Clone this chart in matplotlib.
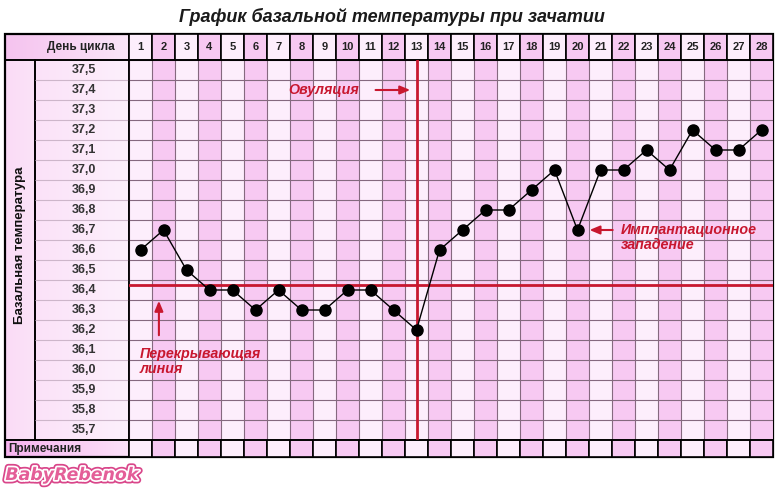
import matplotlib
matplotlib.use("Agg")
import matplotlib.pyplot as plt
import matplotlib.patheffects as pe
from matplotlib.patches import Rectangle
from matplotlib.transforms import blended_transform_factory
import numpy as np

plt.rcParams["font.family"] = ["Liberation Sans", "DejaVu Sans"]

# ---- chart data ----
days = list(range(1, 29))
temps = [36.6, 36.7, 36.5, 36.4, 36.4, 36.3, 36.4, 36.3, 36.3, 36.4,
         36.4, 36.3, 36.2, 36.6, 36.7, 36.8, 36.8, 36.9, 37.0, 36.7,
         37.0, 37.0, 37.1, 37.0, 37.2, 37.1, 37.1, 37.2]
temp_ticks = [37.5, 37.4, 37.3, 37.2, 37.1, 37.0, 36.9, 36.8, 36.7, 36.6,
              36.5, 36.4, 36.3, 36.2, 36.1, 36.0, 35.9, 35.8, 35.7]
temp_labels = ["37,5", "37,4", "37,3", "37,2", "37,1", "37,0", "36,9", "36,8",
               "36,7", "36,6", "36,5", "36,4", "36,3", "36,2", "36,1", "36,0",
               "35,9", "35,8", "35,7"]
coverline = 36.425
ovulation_day = 13
implantation_day = 20

title = "График базальной температуры при зачатии"

# ---- colours ----
DARK = "#f7c9f2"
LIGHT = "#fdeefc"
GRID = "#85697f"
RED = "#c8172f"

W, H = 782, 490
fig = plt.figure(figsize=(W / 100, H / 100), dpi=100)
fig.patch.set_facecolor("white")

# background layer in pixel units (y grows downward)
bg = fig.add_axes([0, 0, 1, 1])
bg.axis("off")

TL, TR = 5, 773      # table left / right
LX, GX = 35, 129     # left column divider, start of the day grid
HT, GT = 34, 60      # header top, grid top
GB, NB = 440, 457    # grid bottom, notes row bottom


def hgrad(c0, c1, n=64):
    a = np.array(matplotlib.colors.to_rgb(c0))
    b = np.array(matplotlib.colors.to_rgb(c1))
    t = np.linspace(0, 1, n)[None, :, None]
    return a + (b - a) * t


bg.imshow(hgrad("#f5c3ef", "#fbe6f8"), extent=(TL, GX, HT, GT), aspect="auto", zorder=0)
bg.imshow(hgrad("#f7b4ef", "#fbe0f8"), extent=(TL, GX, GB, NB), aspect="auto", zorder=0)
bg.imshow(hgrad("#fadbf6", "#fbe3f8"), extent=(TL, LX, GT, GB), aspect="auto", zorder=0)
bg.imshow(hgrad("#fbe2f8", "#fdf0fc"), extent=(LX, GX, GT, GB), aspect="auto", zorder=0)

bg.add_patch(Rectangle((TL, HT), GX - TL, GT - HT, fill=False, ec="black", lw=1.2, zorder=3))
bg.add_patch(Rectangle((TL, GB), GX - TL, NB - GB, fill=False, ec="black", lw=1.2, zorder=3))
bg.add_patch(Rectangle((TL, GT), LX - TL, GB - GT, fill=False, ec="black", lw=1.2, zorder=3))
bg.add_patch(Rectangle((LX, GT), GX - LX, GB - GT, fill=False, ec="black", lw=1.2, zorder=3))

bg.text(392, 17, title, ha="center", va="center", fontsize=13,
        fontweight="bold", style="italic", color="#1a1a1a")
bg.text((LX + GX) / 2 - 1, (HT + GT) / 2, "День цикла", ha="center", va="center",
        fontsize=8.5, fontweight="bold", color="#222222")
bg.text((TL + LX) / 2, (GT + GB) / 2 - 5, "Базальная температура", rotation=90,
        ha="center", va="center", fontsize=9.5, fontweight="bold", color="#111111")
bg.text(TL + 3, (GB + NB) / 2, "Примечания", ha="left", va="center",
        fontsize=8.5, fontweight="bold", color="#222222")

logo = bg.text(72, 475, "BabyRebenok", ha="center", va="center", fontsize=12.5,
               fontweight="bold", style="italic", family="DejaVu Sans", color="#e45e98")
logo.set_path_effects([pe.Stroke(linewidth=5, foreground="#d9468a"),
                       pe.Stroke(linewidth=2.5, foreground="white"), pe.Normal()])

bg.set_xlim(0, W)
bg.set_ylim(H, 0)

# ---- day grid with temperatures ----
ax = fig.add_axes([GX / W, 1 - GB / H, (TR - GX) / W, (GB - GT) / H])
ax.set_xlim(0.5, 28.5)
ax.set_ylim(35.65, 37.55)
ax.axis("off")
ax.patch.set_alpha(0)

for d in days:
    col = DARK if d % 2 == 0 else LIGHT
    ax.axvspan(d - 0.5, d + 0.5, color=col, lw=0, zorder=0)

edges_y = np.linspace(35.65, 37.55, len(temp_ticks) + 1)
ax.hlines(edges_y, 0.5, 28.5, color=GRID, lw=0.8, zorder=1)
ax.vlines(np.arange(0.5, 29, 1), 35.65, 37.55, color=GRID, lw=0.8, zorder=1)

# header and notes rows above / below the grid
xt = ax.get_xaxis_transform()
head_h = (GT - HT) / (GB - GT)
note_h = (NB - GB) / (GB - GT)
for d in days:
    col = DARK if d % 2 == 0 else LIGHT
    ax.add_patch(Rectangle((d - 0.5, 1), 1, head_h, transform=xt, clip_on=False,
                           fc=col, ec="black", lw=1.2, zorder=2))
    ax.add_patch(Rectangle((d - 0.5, -note_h), 1, note_h, transform=xt, clip_on=False,
                           fc=col, ec="black", lw=1.2, zorder=2))
    ax.text(d, 1 + head_h / 2, str(d), transform=xt, ha="center", va="center",
            fontsize=8, fontweight="bold", color="#222222", clip_on=False)

# temperature labels in the left column
lt = blended_transform_factory(bg.transData, ax.transData)
ax.hlines(edges_y[1:-1], LX, GX, transform=lt, color="#cdb6ca", lw=0.8,
          clip_on=False, zorder=1)
for t, lab in zip(temp_ticks, temp_labels):
    ax.text(84, t, lab, transform=lt, ha="center", va="center", fontsize=9,
            fontweight="bold", color="#333333", clip_on=False)

ax.plot([0.5, 28.5], [1, 1], transform=xt, color="black", lw=1.2, clip_on=False, zorder=3)
ax.plot([0.5, 28.5], [0, 0], transform=xt, color="black", lw=1.2, clip_on=False, zorder=3)
ax.plot([0.5, 0.5], [0, 1], transform=xt, color="black", lw=1.2, clip_on=False, zorder=3)

# coverline and ovulation marker
ax.axhline(coverline, color=RED, lw=2, zorder=3)
ax.axvline(ovulation_day, color=RED, lw=2, zorder=3)

# temperature curve
ax.plot(days, temps, color="black", lw=1, marker="o", markersize=8,
        markerfacecolor="black", markeredgecolor="black", zorder=5, clip_on=False)

# annotations
txt = dict(color=RED, fontsize=10.3, fontweight="bold", style="italic")
arrow = dict(arrowstyle="-|>,head_length=0.6,head_width=0.25", color=RED, lw=1.5)

ax.text(ovulation_day - 4.05, 37.40, "Овуляция", ha="center", va="center", **txt)
ax.annotate("", xy=(ovulation_day - 0.15, 37.40), xytext=(ovulation_day - 1.9, 37.40),
            arrowprops=arrow)

ax.text(0.95, 36.08, "Перекрывающая", ha="left", va="center", **txt)
ax.text(0.95, 36.005, "линия", ha="left", va="center", **txt)
ax.annotate("", xy=(1.8, 36.36), xytext=(1.8, 36.16), arrowprops=arrow)

t_imp = temps[days.index(implantation_day)]
ax.text(implantation_day + 1.9, t_imp, "Имплантационное", ha="left", va="center", **txt)
ax.text(implantation_day + 1.9, t_imp - 0.075, "западение", ha="left", va="center", **txt)
ax.annotate("", xy=(implantation_day + 0.4, t_imp), xytext=(implantation_day + 1.65, t_imp),
            arrowprops=arrow)

# outer frame of the table
bg.add_patch(Rectangle((TL, HT), TR - TL, NB - HT, fill=False, ec="black", lw=1.6, zorder=10))

fig.savefig("out.png", dpi=100)
